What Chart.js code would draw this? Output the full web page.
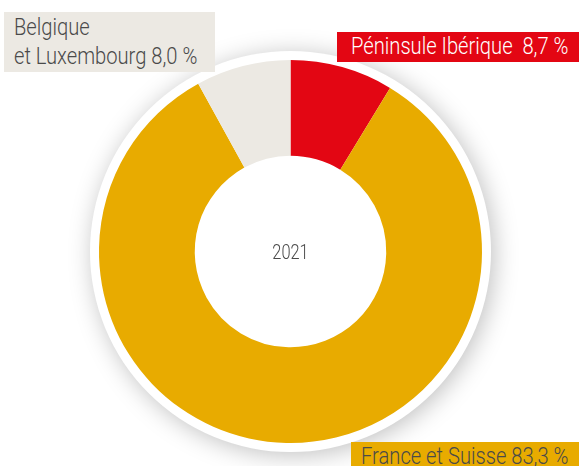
<!DOCTYPE html>
<html>
<head>
<meta charset="utf-8">
<script src="https://cdn.jsdelivr.net/npm/chart.js@4"></script>
<style>
  body { margin: 0; background: #fff; }
  #wrap { position: relative; width: 579px; height: 466px; overflow: hidden; }
  .box { position: absolute; }
  .lbl {
    position: absolute;
    font-family: Roboto, "Liberation Sans", sans-serif;
    font-weight: 300;
    font-size: 24px;
    line-height: 29px;
    white-space: nowrap;
    transform: scaleX(0.84);
    transform-origin: 0 0;
  }
</style>
</head>
<body>
<div id="wrap">
  <canvas id="donut" width="579" height="466"></canvas>
  <div class="box" style="left:337px; top:32px; width:242px; height:30px; background:#e30613;"></div>
  <div class="box" style="left:351px; top:442px; width:228px; height:26px; background:#e8ab00;"></div>
  <div class="box" style="left:4px; top:12px; width:211px; height:60px; background:#ece9e3;"></div>
  <div id="lbl0" class="lbl" style="left:351px; top:32px; color:#fff;"></div>
  <div id="lbl1" class="lbl" style="left:361px; top:442px; color:#4a4a4a;"></div>
  <div id="lbl2" class="lbl" style="left:14px; top:13px; color:#4a4a4a;"></div>
</div>
<script>
// données (2021)
const regions = ['Péninsule Ibérique', 'France et Suisse', 'Belgique et Luxembourg'];
const parts = [8.7, 83.3, 8.0];
const couleurs = ['#e30613', '#e8ab00', '#ece9e3'];
const annee = '2021';

const fmt = v => v.toFixed(1).replace('.', ',') + ' %';

// étiquettes
document.getElementById('lbl0').textContent = regions[0] + '\u00a0\u00a0' + fmt(parts[0]);
document.getElementById('lbl1').textContent = regions[1] + ' ' + fmt(parts[1]);
document.getElementById('lbl2').innerHTML = 'Belgique<br>et Luxembourg ' + fmt(parts[2]);

// anneau blanc + ombre derrière le donut, et année au centre
const decor = {
  id: 'decor',
  beforeDatasetsDraw(chart) {
    const arc = chart.getDatasetMeta(0).data[0];
    const ctx = chart.ctx;
    ctx.save();
    ctx.beginPath();
    ctx.arc(arc.x, arc.y, arc.outerRadius + 9, 0, Math.PI * 2);
    ctx.fillStyle = '#fff';
    ctx.shadowColor = 'rgba(0,0,0,0.25)';
    ctx.shadowBlur = 24;
    ctx.shadowOffsetX = 3;
    ctx.shadowOffsetY = 3;
    ctx.fill();
    ctx.restore();
  },
  afterDatasetsDraw(chart) {
    const arc = chart.getDatasetMeta(0).data[0];
    const ctx = chart.ctx;
    ctx.save();
    ctx.translate(arc.x, arc.y + 2);
    ctx.scale(0.82, 1);
    ctx.font = '300 20px Roboto, "Liberation Sans", sans-serif';
    ctx.fillStyle = '#4a4a4a';
    ctx.textAlign = 'center';
    ctx.textBaseline = 'middle';
    ctx.fillText(annee, 0, 0);
    ctx.restore();
  }
};

const config = {
  type: 'doughnut',
  data: {
    labels: regions,
    datasets: [{
      data: parts,
      backgroundColor: couleurs,
      borderWidth: 0,
      hoverOffset: 0
    }]
  },
  options: {
    responsive: false,
    animation: false,
    cutout: '50%',
    layout: { padding: { top: 60, bottom: 23, left: 2, right: 0 } },
    plugins: {
      legend: { display: false },
      tooltip: { enabled: false }
    }
  },
  plugins: [decor]
};

new Chart(document.getElementById('donut').getContext('2d'), config);
</script>
</body>
</html>
